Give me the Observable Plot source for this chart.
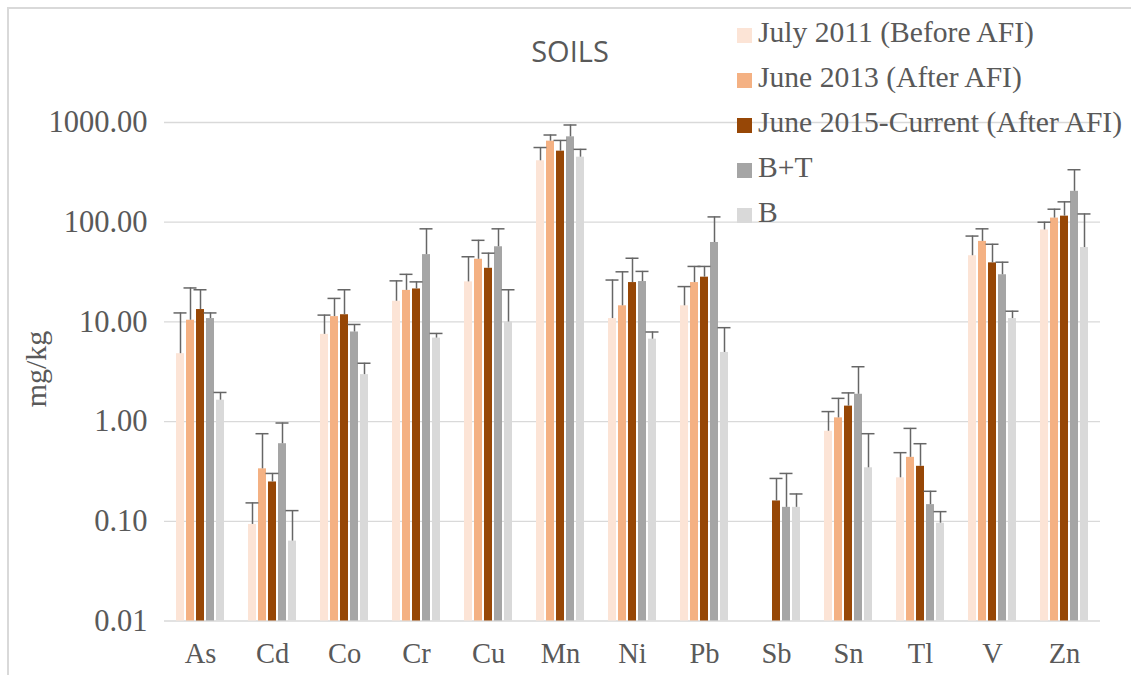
<!DOCTYPE html>
<html>
<head>
<meta charset="utf-8">
<script src="https://cdn.jsdelivr.net/npm/d3@7"></script>
<script src="https://cdn.jsdelivr.net/npm/@observablehq/plot@0.6"></script>
<style>
  html, body { margin: 0; padding: 0; background: #fff; }
  #wrap { position: relative; width: 1131px; height: 675px; overflow: hidden; }
  #frame { position: absolute; left: 7px; top: 7px; width: 1300px; height: 800px; border: 2px solid #d9d9d9; box-sizing: border-box; }
  #chart { position: absolute; left: 0; top: 0; }
  #title { position: absolute; left: 0; width: 1140px; top: 33px; text-align: center; font-family: "Open Sans", sans-serif; font-size: 29px; color: #595959; line-height: 36px; }
  #ylabel { position: absolute; left: 36px; top: 369px; transform: translate(-50%, -50%) rotate(-90deg); font-family: "Liberation Serif", serif; font-size: 30px; color: #595959; white-space: nowrap; }
  #legend { position: absolute; left: 737px; top: 10px; font-family: "Liberation Serif", serif; font-size: 29.6px; color: #595959; }
  .row { position: absolute; left: 0; height: 45px; white-space: nowrap; display: flex; align-items: center; }
  .sw { width: 15px; height: 15px; margin-right: 6px; margin-top: 5px; }
  [aria-label^="y-axis"] text { font-size: 30.5px; }
  [aria-label^="fx-axis"] text { font-size: 28.5px; }
</style>
</head>
<body>
<div id="wrap">
  <div id="frame"></div>
  <div id="chart"></div>
  <div id="title">SOILS</div>
  <div id="ylabel">mg/kg</div>
  <div id="legend"></div>
</div>
<script>
const elements = ["As","Cd","Co","Cr","Cu","Mn","Ni","Pb","Sb","Sn","Tl","V","Zn"];
const seriesNames = ["July 2011 (Before AFI)","June 2013 (After AFI)","June 2015-Current (After AFI)","B+T","B"];
const seriesColors = ["#fce4d6","#f4b183","#974706","#a5a5a5","#d9d9d9"];

const july2011    = [4.8, 0.093, 7.5, 16.1, 25.2, 413, 10.8, 14.5, null, 0.80, 0.273, 46.1, 83.6];
const july2011Err = [12.3, 0.153, 11.7, 25.8, 45.0, 561, 26.3, 22.6, null, 1.26, 0.488, 72.6, 100];
const june2013    = [10.4, 0.336, 11.3, 20.7, 42.5, 650, 14.5, 24.8, null, 1.09, 0.438, 64.2, 110];
const june2013Err = [21.9, 0.756, 17.2, 30.0, 65.8, 749, 31.8, 36.0, null, 1.71, 0.855, 85.8, 135];
const june2015    = [13.3, 0.248, 11.8, 21.4, 34.5, 516, 24.8, 28.1, 0.160, 1.43, 0.356, 39.1, 115];
const june2015Err = [21.0, 0.302, 21.0, 25.2, 48.9, 661, 43.5, 36.0, 0.269, 1.94, 0.600, 60.1, 160];
const bt          = [10.8, 0.600, 7.92, 47.3, 56.7, 718, 25.4, 62.6, 0.138, 1.88, 0.147, 29.7, 204];
const btErr       = [12.3, 0.968, 9.42, 85.8, 85.8, 944, 32.1, 113, 0.302, 3.55, 0.200, 39.7, 336];
const bOnly       = [1.64, 0.0633, 2.96, 6.88, 9.98, 449, 6.71, 4.94, 0.138, 0.344, 0.0957, 10.8, 55.7];
const bOnlyErr    = [1.96, 0.128, 3.85, 7.66, 21.0, 538, 7.92, 8.75, 0.188, 0.756, 0.125, 12.8, 121];

const yTicks = [0.01, 0.1, 1, 10, 100, 1000];

const seriesValues = [july2011, june2013, june2015, bt, bOnly];
const seriesErrs = [july2011Err, june2013Err, june2015Err, btErr, bOnlyErr];

const rows = [];
elements.forEach((el, i) => {
  seriesNames.forEach((s, j) => {
    rows.push({el, series: s, v: seriesValues[j][i], err: seriesErrs[j][i]});
  });
});
const baseline = yTicks[0];

const chart = Plot.plot({
  width: 1131,
  height: 675,
  marginLeft: 163,
  marginRight: 31,
  marginTop: 122,
  marginBottom: 54.5,
  style: {fontFamily: "Liberation Serif, serif", fontSize: "28px", color: "#595959", background: "transparent", overflow: "visible"},
  facet: {data: rows, x: "el"},
  fx: {domain: elements, padding: 0, axis: "bottom", label: null, tickSize: 0, tickPadding: 22},
  x: {domain: seriesNames, axis: null, paddingInner: 0.2, paddingOuter: 0.9},
  y: {type: "log", domain: [0.01, 1000], ticks: yTicks, tickFormat: d3.format(".2f"), tickSize: 0, tickPadding: 17, label: null},
  color: {domain: seriesNames, range: seriesColors},
  marks: [
    Plot.ruleY(yTicks, {stroke: "#d9d9d9", strokeWidth: 1.3}),
    Plot.barY(rows, {x: "series", y1: () => baseline, y2: "v", fill: "series"}),
    Plot.ruleX(rows, {x: "series", y1: "v", y2: "err", stroke: "#666", strokeWidth: 1.5}),
    Plot.tickY(rows, {x: "series", y: "err", stroke: "#666", strokeWidth: 1.5, insetLeft: -2.5, insetRight: -2.5})
  ]
});
document.getElementById("chart").appendChild(chart);

const legend = document.getElementById("legend");
seriesNames.forEach((s, j) => {
  const row = document.createElement("div");
  row.className = "row";
  row.style.top = (j * 45) + "px";
  const sw = document.createElement("span");
  sw.className = "sw";
  sw.style.background = seriesColors[j];
  const t = document.createElement("span");
  t.textContent = s;
  row.appendChild(sw);
  row.appendChild(t);
  legend.appendChild(row);
});
</script>
</body>
</html>
